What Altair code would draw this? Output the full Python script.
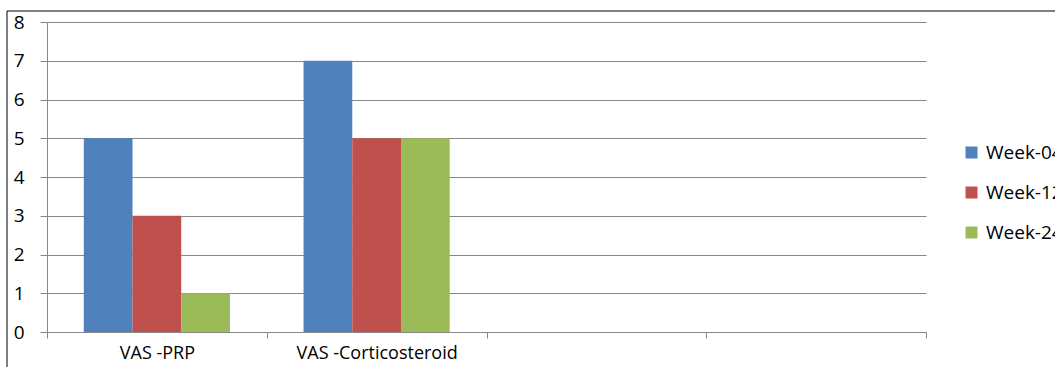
import altair as alt
import pandas as pd

categories = ["VAS -PRP", "VAS -Corticosteroid", " ", "  "]
series = ["Week-04", "Week-12", "Week-24"]
week04 = [5, 7]
week12 = [3, 5]
week24 = [1, 5]
colors = ["#4F81BD", "#C0504D", "#9BBB59"]
y_ticks = [0, 1, 2, 3, 4, 5, 6, 7, 8]

rows = []
for i, cat in enumerate(categories[:2]):
    for s, vals in zip(series, [week04, week12, week24]):
        rows.append({"category": cat, "series": s, "value": vals[i]})
df = pd.DataFrame(rows)

FONT = "Open Sans"
GRID = "#878787"
FS = 19

bars = alt.Chart(df).mark_bar().encode(
    x=alt.X(
        "category:N",
        scale=alt.Scale(domain=categories, paddingInner=0, paddingOuter=0),
        axis=alt.Axis(
            title=None,
            labelAngle=0,
            tickBand="extent",
            tickSize=6,
            tickColor=GRID,
            domainColor=GRID,
            labelPadding=6,
            labelFont=FONT,
            labelFontSize=18,
            labelColor="#000000",
            grid=False,
        ),
    ),
    xOffset=alt.XOffset("series:N", scale=alt.Scale(domain=series, paddingInner=0, paddingOuter=0.755)),
    y=alt.Y(
        "value:Q",
        scale=alt.Scale(domain=[0, 8], nice=False),
        axis=alt.Axis(
            title=None,
            values=y_ticks,
            tickSize=7,
            tickColor=GRID,
            domainColor=GRID,
            gridColor=GRID,
            labelPadding=16,
            labelFont=FONT,
            labelFontSize=FS,
            labelColor="#000000",
        ),
    ),
    color=alt.Color(
        "series:N",
        scale=alt.Scale(domain=series, range=colors),
        legend=alt.Legend(
            title=None,
            orient="none",
            legendX=915,
            legendY=121,
            symbolType="square",
            symbolSize=144,
            labelFont=FONT,
            labelFontSize=FS,
            labelColor="#000000",
            labelOffset=5,
            rowPadding=20,
        ),
    ),
)

frame_data = alt.Data(values=[{"a": 1}])
frame_v = alt.Chart(frame_data).mark_rule(color="#000000", strokeWidth=1).encode(
    x=alt.value(-40), y=alt.value(-11), y2=alt.value(345)
)
frame_h = alt.Chart(frame_data).mark_rule(color="#000000", strokeWidth=1).encode(
    x=alt.value(-40), x2=alt.value(1008), y=alt.value(-11)
)

chart = alt.layer(bars, frame_v, frame_h).properties(
    width=879,
    height=310,
    autosize=alt.AutoSizeParams(type="none"),
    padding={"left": 47, "top": 22, "right": 129, "bottom": 35},
).configure(background="#ffffff").configure_view(stroke=None)

chart.save("out.html", embed_options={"renderer": "svg", "actions": False})
